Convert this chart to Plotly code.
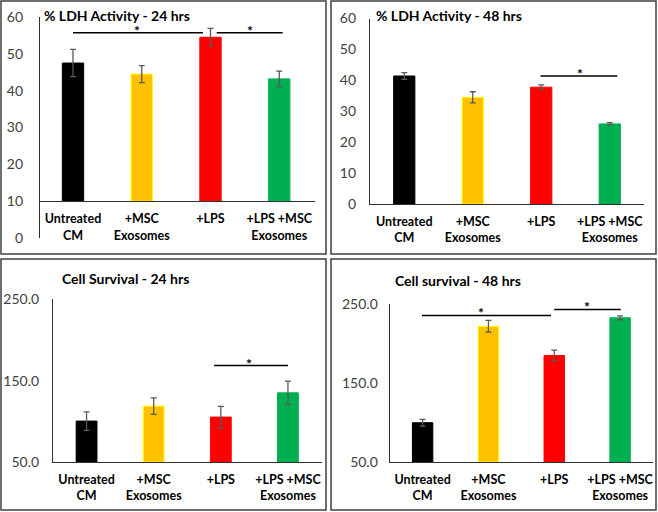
import plotly.graph_objects as go

W, H = 658, 512

categories = ["Untreated<br>CM", "+MSC<br>Exosomes", "+LPS", "+LPS +MSC<br>Exosomes"]
bar_colors = ["#000000", "#FFC000", "#FF0000", "#00B050"]
bar_edges = ["#000000", "#FFFF00", "#FF0000", "#00B050"]

ldh24 = [47.5, 44.5, 54.5, 43.2]
ldh24_err = [3.7, 2.3, 2.4, 2.1]
ldh48 = [41.4, 34.5, 37.8, 25.9]
ldh48_err = [1.1, 1.8, 0.7, 0.4]
surv24 = [100.3, 118.7, 105.2, 135.0]
surv24_err = [11.4, 10.2, 13.1, 14.3]
surv48 = [99.6, 221.5, 184.5, 232.2]
surv48_err = [4.2, 7.4, 6.8, 2.5]

titles = ["% LDH Activity - 24 hrs", "% LDH Activity - 48 hrs",
          "Cell Survival - 24 hrs", "Cell survival - 48 hrs"]
ldh_ticks = [0, 10, 20, 30, 40, 50, 60]
surv_ticks = [50, 150, 250]

# significance brackets per panel: (x start, x end, y level, star x)
sig1 = [(0.0, 1.89, 55.7, 0.93), (2.09, 3.05, 55.7, 2.57)]
sig2 = [(1.99, 3.11, 41.4, 2.57)]
sig3 = [(1.9, 3.0, 168.6, 2.42)]
sig4 = [(-0.01, 1.95, 235.2, 0.89), (2.0, 3.01, 242.8, 2.5)]

FONT = "Lato"

panels = [
    dict(vals=ldh24, err=ldh24_err, rng=[0, 60], base=10, ticks=ldh_ticks, fmt="d",
         xpx=(40, 315), ypx=(17, 238), xr=[-0.48, 3.52], standoff=13,
         title=titles[0], tpos=(42, 15), sig=sig1, box=(1, 1, 326, 254)),
    dict(vals=ldh48, err=ldh48_err, rng=[0, 60], base=0, ticks=ldh_ticks, fmt="d",
         xpx=(370, 644), ypx=(18.5, 204), xr=[-0.5, 3.5], standoff=10,
         title=titles[1], tpos=(374, 15), sig=sig2, box=(331, 1, 656, 254)),
    dict(vals=surv24, err=surv24_err, rng=[50, 250], base=50, ticks=surv_ticks, fmt=".1f",
         xpx=(53, 321.5), ypx=(299.3, 462), xr=[-0.5, 3.5], standoff=10,
         title=titles[2], tpos=(60, 278.5), sig=sig3, box=(1, 259, 326, 510)),
    dict(vals=surv48, err=surv48_err, rng=[50, 250], base=50, ticks=surv_ticks, fmt=".1f",
         xpx=(389.7, 653), ypx=(303.7, 462), xr=[-0.5, 3.5], standoff=8,
         title=titles[3], tpos=(393, 280), sig=sig4, box=(331, 259, 656, 510)),
]

fig = go.Figure()
shapes = []
annotations = []
layout = {}

AXIS_COLOR = "#303030"

for i, p in enumerate(panels):
    n = "" if i == 0 else str(i + 1)
    xa, ya = "x" + n, "y" + n
    base = p["base"]
    fig.add_trace(go.Bar(
        x=categories, y=[v - base for v in p["vals"]], base=[base] * len(p["vals"]),
        xaxis=xa, yaxis=ya, width=0.31,
        marker=dict(color=bar_colors, line=dict(color=bar_edges, width=1)),
        error_y=dict(type="data", array=p["err"], color="#595959", thickness=1.3, width=3),
        showlegend=False, hoverinfo="skip",
    ))
    xd = [p["xpx"][0] / W, p["xpx"][1] / W]
    yd = [1 - p["ypx"][1] / H, 1 - p["ypx"][0] / H]
    r0, r1 = p["rng"]
    cross = yd[0] + (base - r0) / (r1 - r0) * (yd[1] - yd[0])
    xaxis = dict(domain=xd, range=p["xr"], type="category", showline=True,
                 linecolor=AXIS_COLOR, linewidth=1.2, ticks="", showgrid=False,
                 automargin=False, ticklabelstandoff=6,
                 tickfont=dict(family=FONT, size=12.5, color="#000000", weight="bold"),
                 fixedrange=True)
    if base != r0:
        xaxis.update(anchor="free", position=cross)
    else:
        xaxis.update(anchor=ya)
    layout["xaxis" + n] = xaxis
    layout["yaxis" + n] = dict(domain=yd, range=p["rng"], anchor=xa, showline=True,
                               linecolor=AXIS_COLOR, linewidth=1.2, showgrid=False,
                               zeroline=False, ticks="", tickvals=p["ticks"],
                               tickformat=p["fmt"], ticklabelstandoff=p["standoff"],
                               automargin=False,
                               tickfont=dict(family=FONT, size=14, color="#404040"),
                               fixedrange=True)
    # title
    annotations.append(dict(text="<b>" + p["title"] + "</b>", xref="paper", yref="paper",
                            x=p["tpos"][0] / W, y=1 - p["tpos"][1] / H, xanchor="left",
                            yanchor="middle", showarrow=False,
                            font=dict(family=FONT, size=14, color="#000000")))
    # significance brackets
    for (s0, s1, lvl, sx) in p["sig"]:
        shapes.append(dict(type="line", xref=xa, yref=ya, x0=s0, x1=s1, y0=lvl, y1=lvl,
                           line=dict(color="#000000", width=1.5)))
        annotations.append(dict(text="<b>*</b>", xref=xa, yref=ya, x=sx, y=lvl,
                                xanchor="center", yanchor="bottom", yshift=-8,
                                showarrow=False,
                                font=dict(family=FONT, size=14, color="#000000")))
    # panel border
    bx0, by0, bx1, by1 = p["box"]
    shapes.append(dict(type="rect", xref="paper", yref="paper", x0=bx0 / W, x1=bx1 / W,
                       y0=1 - by1 / H, y1=1 - by0 / H, line=dict(color="#404040", width=1.5)))

fig.update_layout(
    width=W, height=H, autosize=False, margin=dict(l=0, r=0, t=0, b=0, pad=0, autoexpand=False),
    paper_bgcolor="white", plot_bgcolor="rgba(0,0,0,0)",
    shapes=shapes, annotations=annotations, bargap=0.69,
    font=dict(family=FONT), **layout,
)

fig.write_html("out.html", config={"displayModeBar": False},
               post_script="document.body.style.margin='0px';")
